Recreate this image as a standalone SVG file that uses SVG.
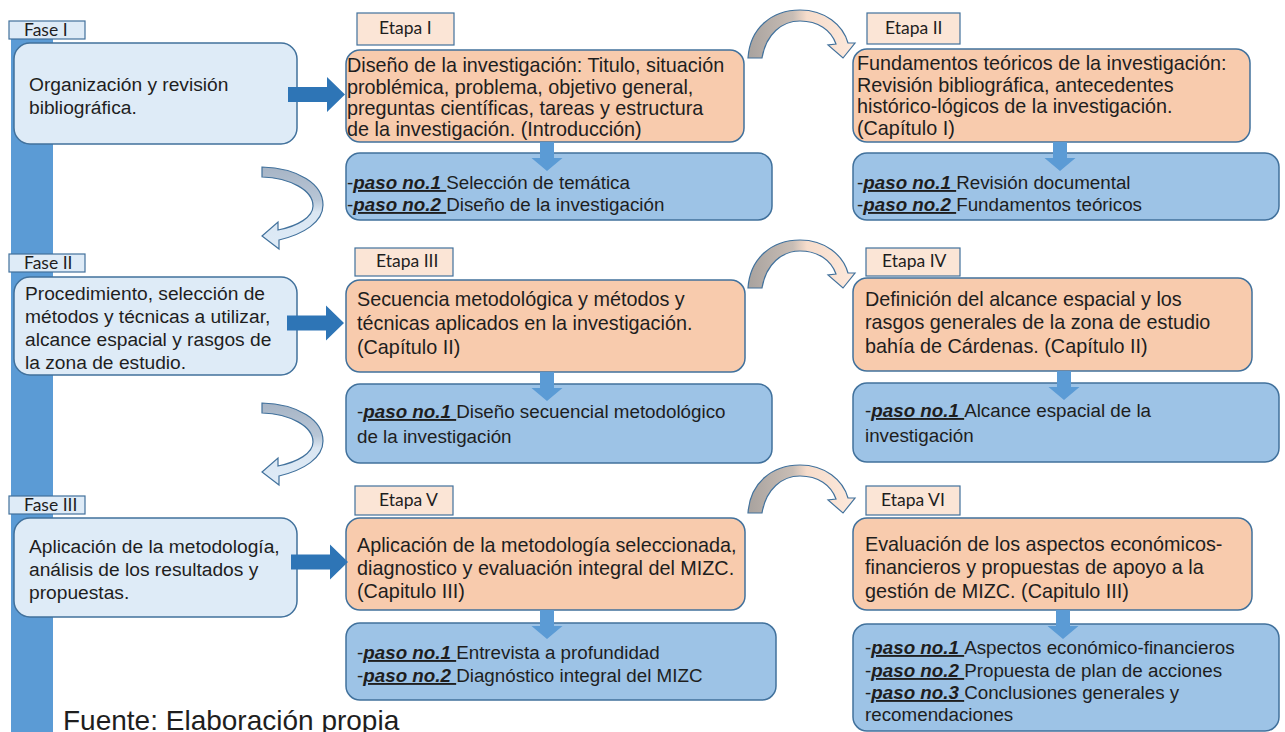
<svg xmlns="http://www.w3.org/2000/svg" xmlns:xlink="http://www.w3.org/1999/xlink" width="1285" height="732" viewBox="0 0 1285 732">
<style>
.t{font-family:"Liberation Sans",Arial,sans-serif;fill:#1e1e1e}
.fz{font-size:19.2px}
.ez{font-size:19.8px}
.sz{font-size:18.8px}
.p{font-weight:bold;font-style:italic;text-decoration:underline}
.lab{font-family:Lato,"Liberation Sans",sans-serif;font-size:17.5px;fill:#1e1e1e}
.fase{fill:#deebf7;stroke:#41719c;stroke-width:1.5}
.flab{fill:#deebf7;stroke:#41719c;stroke-width:1.2}
.elab{fill:#fbe5d6;stroke:#41719c;stroke-width:1.2}
.etapa{fill:#f8cbad;stroke:#41719c;stroke-width:1.5}
.step{fill:#9dc3e6;stroke:#41719c;stroke-width:1.5}
.thick{fill:#2e75b6}
.down{fill:#5b9bd5}
.ctop{fill:url(#gTop);stroke:#41719c;stroke-width:1.2}
.cleft{fill:url(#gLeft);stroke:#41719c;stroke-width:1.2}
</style>
<defs>
<linearGradient id="gTop" x1="0" y1="0" x2="1" y2="0">
<stop offset="0" stop-color="#a8a29e"/>
<stop offset="0.42" stop-color="#c8bdb5"/>
<stop offset="0.55" stop-color="#f6dccb"/>
<stop offset="1" stop-color="#fde9dc"/>
</linearGradient>
<linearGradient id="gLeft" x1="0" y1="0" x2="0" y2="1">
<stop offset="0" stop-color="#a7b4c5"/>
<stop offset="0.4" stop-color="#b8c6d6"/>
<stop offset="0.55" stop-color="#dae6f2"/>
<stop offset="1" stop-color="#deebf7"/>
</linearGradient>
<path id="curveTop" d="M 0 0 C 2 -30, 24 -48, 52 -48 C 77 -48, 95 -33, 100 -15 L 107 -15 L 95 0 L 80 -13 L 88 -14 C 83 -28, 70 -37, 52 -37 C 34 -37, 18 -24, 14 0 Z"/>
<path id="curveLeft" d="M 0 0 C 36 1, 61 17, 61 38 C 61 55, 42 67, 17 73 L 17 82 L 0 69 L 16 55 L 16 63 C 36 59, 51 50, 51 39 C 51 23, 28 11, 0 10 Z"/>
<path id="thickArrow" d="M 0 -7.5 L 39 -7.5 L 39 -17.5 L 57 0 L 39 17.5 L 39 7.5 L 0 7.5 Z"/>
<path id="downArrow" d="M -7 0 L 7 0 L 7 16 L 15.5 16 L 0 29 L -15.5 16 L -7 16 Z"/>
</defs>

<rect id="timeline" x="11" y="39" width="42" height="700" fill="#5b9bd5"/>

<g id="fase1">
<rect class="flab" x="9" y="21" width="76" height="18"/>
<text class="lab" x="24" y="36">Fase I</text>
<rect class="fase" x="14" y="43" width="283" height="101" rx="16"/>
<text class="t fz" x="29" y="91">Organización y revisión</text>
<text class="t fz" x="29" y="114">bibliográfica.</text>
</g>

<g id="fase2">
<rect class="flab" x="9" y="254" width="76" height="18"/>
<text class="lab" x="24" y="269">Fase II</text>
<rect class="fase" x="14" y="277" width="283" height="98" rx="16"/>
<text class="t fz" x="25" y="300">Procedimiento, selección de</text>
<text class="t fz" x="25" y="323">métodos y técnicas a utilizar,</text>
<text class="t fz" x="25" y="346">alcance espacial y rasgos de</text>
<text class="t fz" x="25" y="369">la zona de estudio.</text>
</g>

<g id="fase3">
<rect class="flab" x="9" y="496" width="76" height="18"/>
<text class="lab" x="24" y="511">Fase III</text>
<rect class="fase" x="14" y="518" width="283" height="99" rx="16"/>
<text class="t fz" x="29" y="553">Aplicación de la metodología,</text>
<text class="t fz" x="29" y="576">análisis de los resultados y</text>
<text class="t fz" x="29" y="599">propuestas.</text>
</g>

<g id="etapa1">
<rect class="elab" x="357" y="13" width="97" height="32"/>
<text class="lab" x="379" y="34">Etapa I</text>
<rect class="etapa" x="346" y="50" width="398" height="92" rx="14"/>
<text class="t ez" x="347" y="72">Diseño de la investigación: Titulo, situación</text>
<text class="t ez" x="347" y="94">problémica, problema, objetivo general,</text>
<text class="t ez" x="347" y="115">preguntas científicas, tareas y estructura</text>
<text class="t ez" x="347" y="136">de la investigación. (Introducción)</text>
</g>

<g id="step1">
<rect class="step" x="346" y="153" width="426" height="67" rx="14"/>
<text class="t sz" x="347" y="189">-<tspan class="p">paso no.1 </tspan>Selección de temática</text>
<text class="t sz" x="347" y="211">-<tspan class="p">paso no.2 </tspan>Diseño de la investigación</text>
</g>

<g id="etapa2">
<rect class="elab" x="867" y="13" width="93" height="31"/>
<text class="lab" x="885" y="34">Etapa II</text>
<rect class="etapa" x="853" y="49" width="397" height="93" rx="14"/>
<text class="t ez" x="857" y="70">Fundamentos teóricos de la investigación:</text>
<text class="t ez" x="857" y="92">Revisión bibliográfica, antecedentes</text>
<text class="t ez" x="857" y="113">histórico-lógicos de la investigación.</text>
<text class="t ez" x="857" y="135">(Capítulo I)</text>
</g>

<g id="step2">
<rect class="step" x="853" y="153" width="426" height="67" rx="14"/>
<text class="t sz" x="857" y="189">-<tspan class="p">paso no.1 </tspan>Revisión documental</text>
<text class="t sz" x="857" y="211">-<tspan class="p">paso no.2 </tspan>Fundamentos teóricos</text>
</g>

<g id="etapa3">
<rect class="elab" x="355" y="248" width="98" height="28"/>
<text class="lab" x="376" y="267">Etapa III</text>
<rect class="etapa" x="346" y="280" width="399" height="92" rx="14"/>
<text class="t ez" x="357" y="306">Secuencia metodológica y métodos y</text>
<text class="t ez" x="357" y="330">técnicas aplicados en la investigación.</text>
<text class="t ez" x="357" y="354">(Capítulo II)</text>
</g>

<g id="step3">
<rect class="step" x="346" y="384" width="426" height="79" rx="14"/>
<text class="t sz" x="357" y="418">-<tspan class="p">paso no.1 </tspan>Diseño secuencial metodológico</text>
<text class="t sz" x="357" y="443">de la investigación</text>
</g>

<g id="etapa4">
<rect class="elab" x="866" y="248" width="94" height="28"/>
<text class="lab" x="882" y="267">Etapa IV</text>
<rect class="etapa" x="853" y="278" width="399" height="93" rx="14"/>
<text class="t ez" x="865" y="306">Definición del alcance espacial y los</text>
<text class="t ez" x="865" y="329">rasgos generales de la zona de estudio</text>
<text class="t ez" x="865" y="353">bahía de Cárdenas. (Capítulo II)</text>
</g>

<g id="step4">
<rect class="step" x="853" y="383" width="426" height="79" rx="14"/>
<text class="t sz" x="865" y="417">-<tspan class="p">paso no.1 </tspan>Alcance espacial de la</text>
<text class="t sz" x="865" y="442">investigación</text>
</g>

<g id="etapa5">
<rect class="elab" x="355" y="486" width="98" height="29"/>
<text class="lab" x="379" y="506">Etapa V</text>
<rect class="etapa" x="346" y="518" width="399" height="92" rx="14"/>
<text class="t ez" x="357" y="552">Aplicación de la metodología seleccionada,</text>
<text class="t ez" x="357" y="575">diagnostico y evaluación integral del MIZC.</text>
<text class="t ez" x="357" y="598">(Capitulo III)</text>
</g>

<g id="step5">
<rect class="step" x="346" y="623" width="430" height="77" rx="14"/>
<text class="t sz" x="357" y="659">-<tspan class="p">paso no.1 </tspan>Entrevista a profundidad</text>
<text class="t sz" x="357" y="682">-<tspan class="p">paso no.2 </tspan>Diagnóstico integral del MIZC</text>
</g>

<g id="etapa6">
<rect class="elab" x="866" y="486" width="94" height="29"/>
<text class="lab" x="881" y="506">Etapa VI</text>
<rect class="etapa" x="853" y="518" width="399" height="92" rx="14"/>
<text class="t ez" x="865" y="551">Evaluación de los aspectos económicos-</text>
<text class="t ez" x="865" y="574">financieros y propuestas de apoyo a la</text>
<text class="t ez" x="865" y="598">gestión de MIZC. (Capitulo III)</text>
</g>

<g id="step6">
<rect class="step" x="853" y="624" width="426" height="107" rx="14"/>
<text class="t sz" x="865" y="654">-<tspan class="p">paso no.1 </tspan>Aspectos económico-financieros</text>
<text class="t sz" x="865" y="677">-<tspan class="p">paso no.2 </tspan>Propuesta de plan de acciones</text>
<text class="t sz" x="865" y="699">-<tspan class="p">paso no.3 </tspan>Conclusiones generales y</text>
<text class="t sz" x="865" y="721">recomendaciones</text>
</g>

<g id="connectors">
<use xlink:href="#thickArrow" href="#thickArrow" class="thick" transform="translate(288,94.5)"/>
<use xlink:href="#thickArrow" href="#thickArrow" class="thick" transform="translate(287,323)"/>
<use xlink:href="#thickArrow" href="#thickArrow" class="thick" transform="translate(291,562)"/>
<use xlink:href="#downArrow" href="#downArrow" class="down" transform="translate(547,142)"/>
<use xlink:href="#downArrow" href="#downArrow" class="down" transform="translate(1060,142)"/>
<use xlink:href="#downArrow" href="#downArrow" class="down" transform="translate(547,372)"/>
<use xlink:href="#downArrow" href="#downArrow" class="down" transform="translate(1064,371)"/>
<use xlink:href="#downArrow" href="#downArrow" class="down" transform="translate(547,610)"/>
<use xlink:href="#downArrow" href="#downArrow" class="down" transform="translate(1063,610)"/>
<use xlink:href="#curveTop" href="#curveTop" class="ctop" transform="translate(748,58)"/>
<use xlink:href="#curveTop" href="#curveTop" class="ctop" transform="translate(748,288)"/>
<use xlink:href="#curveTop" href="#curveTop" class="ctop" transform="translate(748,513)"/>
<use xlink:href="#curveLeft" href="#curveLeft" class="cleft" transform="translate(262,167)"/>
<use xlink:href="#curveLeft" href="#curveLeft" class="cleft" transform="translate(262,403)"/>
</g>

<text class="t" x="63" y="730" style="font-size:28px">Fuente: Elaboración propia</text>
</svg>
